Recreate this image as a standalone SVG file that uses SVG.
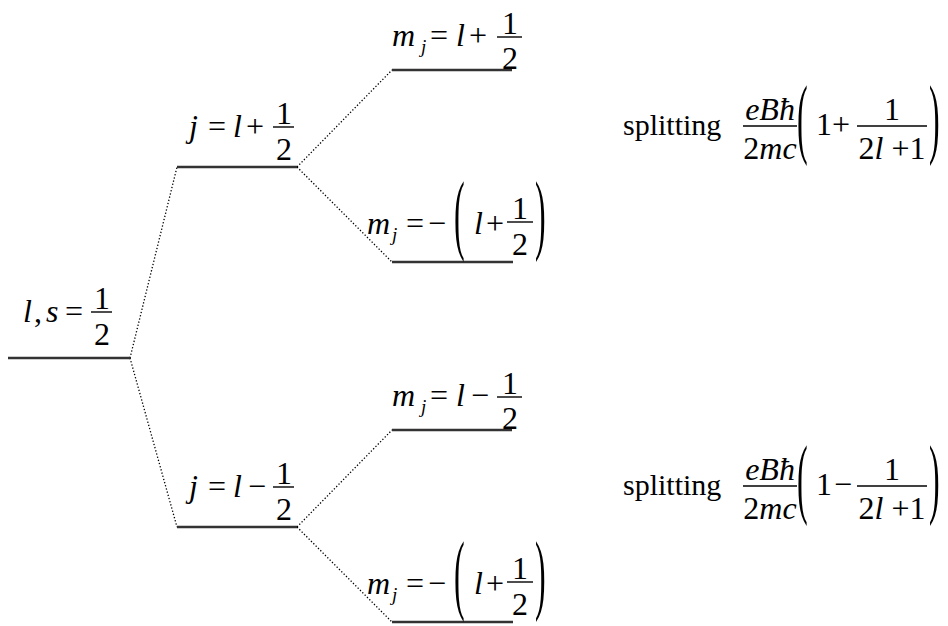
<svg xmlns="http://www.w3.org/2000/svg" width="948" height="626" viewBox="0 0 948 626">
<style>
text{font-family:"Liberation Serif","Times New Roman",serif;font-size:32px;fill:#000}
.i{font-style:italic}
.sub{font-size:19px;font-style:italic}
.txt{font-size:30px}
.lvl{stroke:#333;stroke-width:2.5;fill:none}
.bar{stroke:#000;stroke-width:1.4}
.dot{stroke:#000;stroke-width:1.3;stroke-dasharray:1.3 2;fill:none}
.m{text-anchor:middle}
</style>
<g id="connectors">
<line class="dot" x1="130" y1="358" x2="177" y2="167"/>
<line class="dot" x1="130" y1="358" x2="177" y2="527"/>
<line class="dot" x1="297" y1="167" x2="392" y2="70"/>
<line class="dot" x1="297" y1="167" x2="392" y2="262"/>
<line class="dot" x1="297" y1="527" x2="392" y2="430"/>
<line class="dot" x1="297" y1="527" x2="392" y2="622"/>
</g>
<g id="n-ls">
<line class="lvl" x1="8" y1="358" x2="130" y2="358"/>
<text class="i" x="23" y="322">l</text><text x="34" y="322">,</text><text class="i" x="46" y="322">s</text><text x="65" y="322">=</text>
<line class="bar" x1="91" y1="312" x2="112" y2="312"/>
<text class="m" x="102" y="309">1</text><text class="m" x="102" y="345">2</text>
</g>
<g id="n-jp">
<line class="lvl" x1="177" y1="167" x2="297" y2="167"/>
<text class="i" x="189" y="137">j</text><text x="208" y="137">=</text><text class="i" x="233" y="137">l</text><text x="246" y="137">+</text>
<line class="bar" x1="273" y1="127" x2="294" y2="127"/>
<text class="m" x="284" y="124">1</text><text class="m" x="284" y="160">2</text>
</g>
<g id="n-jm">
<line class="lvl" x1="177" y1="527" x2="297" y2="527"/>
<text class="i" x="189" y="497">j</text><text x="208" y="497">=</text><text class="i" x="233" y="497">l</text><text x="248" y="497">−</text>
<line class="bar" x1="273" y1="487" x2="294" y2="487"/>
<text class="m" x="284" y="484">1</text><text class="m" x="284" y="520">2</text>
</g>
<g id="n-m1">
<line class="lvl" x1="392" y1="70" x2="512" y2="70"/>
<text class="i" x="392" y="46">m</text><text class="sub" x="421" y="53">j</text><text x="430" y="46">=</text><text class="i" x="456" y="46">l</text><text x="469" y="46">+</text>
<line class="bar" x1="497" y1="37" x2="522" y2="37"/>
<text class="m" x="510" y="34">1</text><text class="m" x="510" y="69">2</text>
</g>
<g id="n-m2">
<line class="lvl" x1="392" y1="262" x2="513" y2="262"/>
<text class="i" x="367" y="234">m</text><text class="sub" x="392" y="241">j</text><text x="406" y="234">=</text><text x="428" y="234">−</text>
<text transform="translate(454,243) scale(1,2.8)">(</text>
<text class="i" x="474" y="234">l</text><text x="486" y="234">+</text>
<line class="bar" x1="507" y1="222" x2="533" y2="222"/>
<text class="m" x="520" y="219">1</text><text class="m" x="520" y="255">2</text>
<text transform="translate(535,243) scale(1,2.8)">)</text>
</g>
<g id="n-m3">
<line class="lvl" x1="392" y1="430" x2="512" y2="430"/>
<text class="i" x="392" y="406">m</text><text class="sub" x="421" y="413">j</text><text x="430" y="406">=</text><text class="i" x="456" y="406">l</text><text x="471" y="406">−</text>
<line class="bar" x1="497" y1="397" x2="522" y2="397"/>
<text class="m" x="510" y="394">1</text><text class="m" x="510" y="429">2</text>
</g>
<g id="n-m4">
<line class="lvl" x1="392" y1="622" x2="513" y2="622"/>
<text class="i" x="367" y="594">m</text><text class="sub" x="392" y="601">j</text><text x="406" y="594">=</text><text x="428" y="594">−</text>
<text transform="translate(454,603) scale(1,2.8)">(</text>
<text class="i" x="474" y="594">l</text><text x="486" y="594">+</text>
<line class="bar" x1="507" y1="582" x2="533" y2="582"/>
<text class="m" x="520" y="579">1</text><text class="m" x="520" y="615">2</text>
<text transform="translate(535,603) scale(1,2.8)">)</text>
</g>
<g id="split-top">
<text class="txt" x="623" y="135">splitting</text>
<text class="i m" x="770" y="120">eBħ</text>
<line class="bar" x1="743" y1="126" x2="797" y2="126"/>
<text class="m" x="770" y="159">2<tspan class="i">mc</tspan></text>
<text transform="translate(797,147) scale(1,2.8)">(</text>
<text x="816" y="135">1</text><text x="832" y="135">+</text>
<line class="bar" x1="857" y1="126" x2="927" y2="126"/>
<text class="m" x="892" y="120">1</text>
<text class="m" x="892" y="159">2<tspan class="i">l</tspan> +1</text>
<text transform="translate(929,147) scale(1,2.8)">)</text>
</g>
<g id="split-bot">
<text class="txt" x="623" y="495">splitting</text>
<text class="i m" x="770" y="480">eBħ</text>
<line class="bar" x1="743" y1="486" x2="797" y2="486"/>
<text class="m" x="770" y="519">2<tspan class="i">mc</tspan></text>
<text transform="translate(797,507) scale(1,2.8)">(</text>
<text x="816" y="495">1</text><text x="834" y="495">−</text>
<line class="bar" x1="857" y1="486" x2="927" y2="486"/>
<text class="m" x="892" y="480">1</text>
<text class="m" x="892" y="519">2<tspan class="i">l</tspan> +1</text>
<text transform="translate(929,507) scale(1,2.8)">)</text>
</g>
</svg>
